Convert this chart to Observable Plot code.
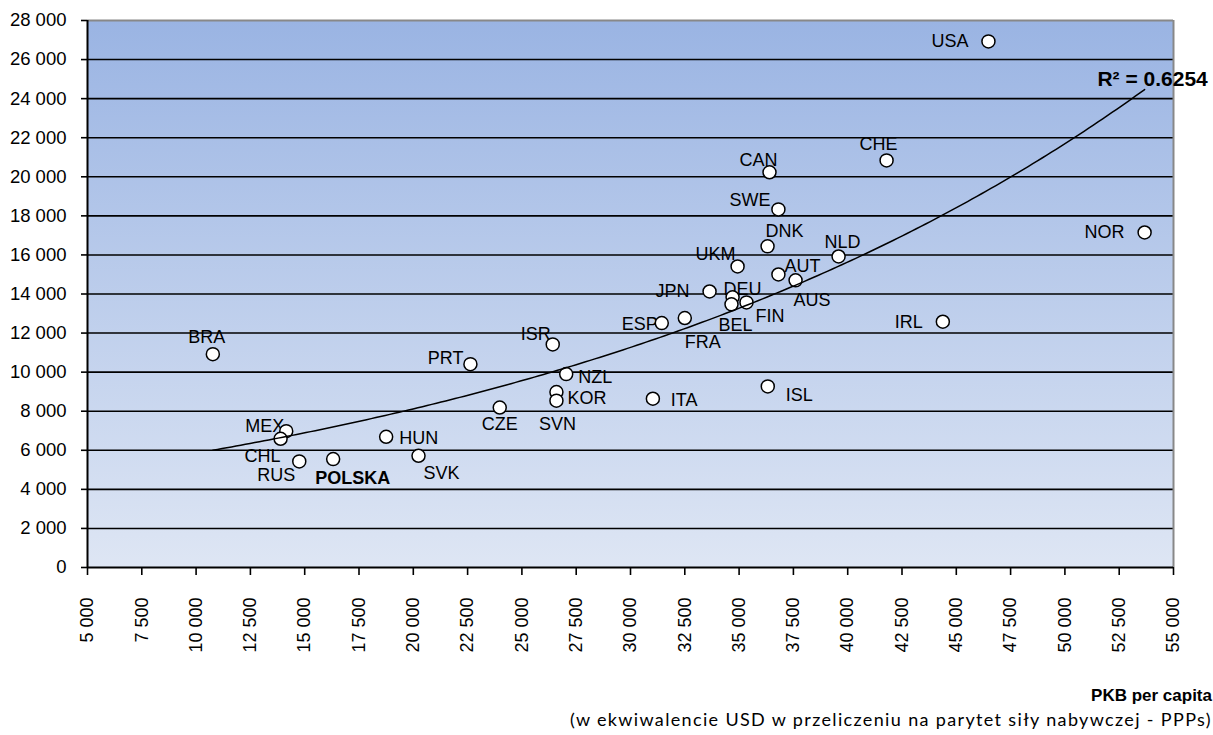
<!DOCTYPE html>
<html><head><meta charset="utf-8">
<script src="https://cdn.jsdelivr.net/npm/d3@7"></script>
<script src="https://cdn.jsdelivr.net/npm/@observablehq/plot@0.6"></script>
<style>
html,body{margin:0;padding:0;background:#fff;overflow:hidden;}
#wrap{position:relative;width:1213px;height:735px;overflow:hidden;font-family:"Liberation Sans",Arial,sans-serif;}
#wrap svg{display:block;}
.cap1{position:absolute;right:1px;top:686px;line-height:20px;font-weight:bold;font-size:17px;white-space:nowrap;color:#000;}
.cap2{position:absolute;right:1px;top:709px;line-height:20px;font-family:Lato,"Open Sans",sans-serif;font-size:18px;letter-spacing:1.35px;white-space:nowrap;color:#000;}
</style></head><body>
<div id="wrap">
  <div id="chart"></div>
  <div class="cap1">PKB per capita</div>
  <div class="cap2">(w ekwiwalencie USD w przeliczeniu na parytet siły nabywczej - PPPs)</div>
</div>
<script>
// ---- data ----
const countries = ["USA","CHE","CAN","SWE","DNK","NOR","NLD","UKM","AUT","AUS","JPN","DEU","BEL","FIN","FRA","ESP","IRL","ISR","BRA","PRT","NZL","KOR","SVN","ITA","ISL","CZE","HUN","SVK","MEX","CHL","RUS","POLSKA"];
const gdpPerCapita = [46480,41790,36400,36810,36310,53670,39580,34930,36810,37600,33640,34700,34650,35340,32500,31440,44380,26420,10770,22630,27040,26590,26590,31030,36320,23980,18750,20240,14150,13890,14750,16310];
const values = [26930,20840,20230,18330,16440,17150,15920,15410,15000,14700,14130,13830,13470,13570,12770,12510,12580,11420,10920,10410,9900,8980,8540,8640,9270,8190,6690,5720,6980,6590,5430,5550];
const xTicks = [5000,7500,10000,12500,15000,17500,20000,22500,25000,27500,30000,32500,35000,37500,40000,42500,45000,47500,50000,52500,55000];
const yTicks = [0,2000,4000,6000,8000,10000,12000,14000,16000,18000,20000,22000,24000,26000,28000];
const r2Text = "R² = 0.6254";

// label placement (anchor, dx, dy in px)
const labelLayout = {
 USA:["end",-20,0], CHE:["middle",-8,-16], CAN:["middle",-11,-12], SWE:["end",-8,-9], DNK:["start",-2,-15],
 NOR:["end",-20,0], NLD:["middle",4,-14], UKM:["end",-2,-12], AUT:["start",6,-8], AUS:["start",-2,20],
 JPN:["end",-20,0], DEU:["start",-9,-8], BEL:["start",-13,21], FIN:["start",9,14], FRA:["start",0,24],
 ESP:["end",-4,1], IRL:["end",-20,0], ISR:["end",-2,-10], BRA:["middle",-6,-17], PRT:["end",-7,-6],
 NZL:["start",12,3], KOR:["start",11,6], SVN:["middle",1,24], ITA:["start",18,2], ISL:["start",18,9],
 CZE:["middle",0,17], HUN:["start",13,1], SVK:["start",5,17], MEX:["end",-2,-5], CHL:["end",0,17],
 RUS:["end",-4,14], POLSKA:["start",-18,19]
};

const data = countries.map((c, i) => ({country: c, x: gdpPerCapita[i], y: values[i]}));

// exponential trendline (least squares on ln y), as Excel does
const mx = d3.mean(data, d => d.x), ml = d3.mean(data, d => Math.log(d.y));
const b = d3.sum(data, d => (d.x - mx) * (Math.log(d.y) - ml)) / d3.sum(data, d => (d.x - mx) ** 2);
const a = Math.exp(ml - b * mx);
const [x0, x1] = d3.extent(data, d => d.x);
const trend = d3.range(0, 201).map(i => { const x = x0 + (x1 - x0) * i / 200; return {x, y: a * Math.exp(b * x)}; });

const loc = d3.formatLocale({decimal: ",", thousands: " ", grouping: [3], currency: ["", ""]});
const fmt = loc.format(",d");

const labelMarks = data.map(d => {
  const [anchor, dx, dy] = labelLayout[d.country];
  return Plot.text([d], {x: "x", y: "y", text: "country", textAnchor: anchor, dx, dy,
    fontSize: 18, fill: "black", fontWeight: d.country === "POLSKA" ? "bold" : "normal"});
});

const plot = Plot.plot({
  width: 1213, height: 680,
  marginLeft: 87, marginRight: 40, marginTop: 20, marginBottom: 113,
  style: {fontFamily: "Liberation Sans, Arial, sans-serif", fontSize: "18px", color: "black", background: "transparent", overflow: "visible"},
  x: {domain: [5000, 55000]},
  y: {domain: [0, 28000]},
  marks: [
    Plot.frame({fill: "url(#bgGrad)", stroke: "none"}),
    Plot.ruleY(yTicks.filter(v => v > 0 && v < 28000), {stroke: "black", strokeWidth: 1.6}),
    Plot.ruleY([28000], {stroke: "#888888", strokeWidth: 2}),
    Plot.ruleX([55000], {stroke: "#888888", strokeWidth: 2}),
    Plot.ruleX([5000], {stroke: "black", strokeWidth: 2}),
    Plot.ruleY([0], {stroke: "black", strokeWidth: 2}),
    Plot.axisX({ticks: xTicks, tickFormat: () => "", tickSize: 8, label: null, stroke: "black", strokeWidth: 1.6}),
    Plot.axisY({ticks: yTicks, tickFormat: () => "", tickSize: 6, label: null, stroke: "black", strokeWidth: 1.6}),
    Plot.text(yTicks, {x: 5000, y: d => d, text: d => fmt(d), textAnchor: "end", dx: -21, fontSize: 18.5, fill: "black"}),
    Plot.text(xTicks, {x: d => d, y: 0, text: d => fmt(d), textAnchor: "end", rotate: -90, dy: 30, fontSize: 18, fill: "black"}),
    ...labelMarks,
    Plot.dot(data, {x: "x", y: "y", r: 6.5, fill: "white", stroke: "black", strokeWidth: 1.5}),
    Plot.line(trend, {x: "x", y: "y", stroke: "black", strokeWidth: 1.5}),
    Plot.text([trend[trend.length - 1]], {x: "x", y: "y", text: () => r2Text, dx: 8, dy: -10, fontWeight: "bold", fontSize: 21, fill: "black"})
  ]
});

const ns = "http://www.w3.org/2000/svg";
const defs = document.createElementNS(ns, "defs");
defs.innerHTML = '<linearGradient id="bgGrad" x1="0" y1="0" x2="0" y2="1"><stop offset="0" stop-color="#9ab4e3"/><stop offset="1" stop-color="#dee6f4"/></linearGradient>';
plot.insertBefore(defs, plot.firstChild);
document.getElementById("chart").appendChild(plot);
</script>
</body></html>
